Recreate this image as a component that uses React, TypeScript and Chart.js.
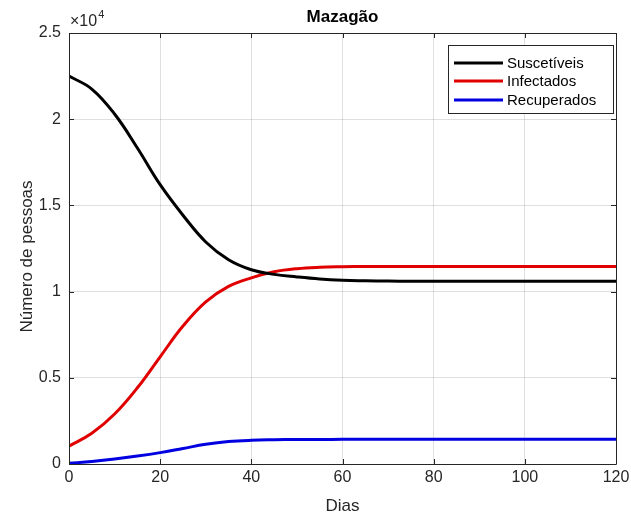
import React, { useEffect, useRef } from "react";
import { Chart, registerables } from "chart.js";

Chart.register(...registerables);

const days = [0, 5, 10, 15, 20, 25, 30, 35, 40, 45, 50, 55, 60, 65, 70, 75, 80, 85, 90, 95, 100, 105, 110, 115, 120];
const suscetiveis = [22500, 21750, 20300, 18330, 16200, 14430, 12880, 11850, 11270, 11000, 10850, 10730, 10660, 10630, 10610, 10600, 10600, 10600, 10600, 10600, 10600, 10600, 10600, 10600, 10600];
const infectados = [1040, 1780, 2900, 4420, 6220, 8000, 9400, 10300, 10800, 11150, 11330, 11410, 11440, 11455, 11460, 11460, 11460, 11460, 11460, 11460, 11460, 11460, 11460, 11460, 11460];
const recuperados = [40, 150, 290, 460, 660, 900, 1140, 1300, 1375, 1405, 1420, 1425, 1430, 1430, 1430, 1430, 1430, 1430, 1430, 1430, 1430, 1430, 1430, 1430, 1430];

const seriesNames = ["Suscetíveis", "Infectados", "Recuperados"];
const seriesColors = ["#000000", "#e00000", "#0000e0"];
const xTicks = [0, 20, 40, 60, 80, 100, 120];
const yTicks = [0, 5000, 10000, 15000, 20000, 25000];
const titleText = "Mazagão";
const xTitle = "Dias";
const yTitle = "Número de pessoas";

const AXIS = "#262626";
const FONT = "'Liberation Sans', Arial, sans-serif";

const decorPlugin = {
  id: "decor",
  afterDatasetsDraw(chart: any) {
    const { ctx, chartArea } = chart;
    const { left, right, top, bottom } = chartArea;
    const xs = chart.scales.x;
    const ys = chart.scales.y;
    ctx.save();
    ctx.strokeStyle = AXIS;
    ctx.lineWidth = 1;
    ctx.beginPath();
    ctx.rect(Math.round(left) + 0.5, Math.round(top) + 0.5, Math.round(right - left), Math.round(bottom - top));
    ctx.stroke();
    ctx.beginPath();
    xTicks.forEach((t) => {
      const px = Math.round(xs.getPixelForValue(t)) + 0.5;
      ctx.moveTo(px, bottom);
      ctx.lineTo(px, bottom - 5);
      ctx.moveTo(px, top);
      ctx.lineTo(px, top + 5);
    });
    yTicks.forEach((t) => {
      const py = Math.round(ys.getPixelForValue(t)) + 0.5;
      ctx.moveTo(left, py);
      ctx.lineTo(left + 5, py);
      ctx.moveTo(right, py);
      ctx.lineTo(right - 5, py);
    });
    ctx.stroke();
    const cx = (left + right) / 2;
    ctx.fillStyle = "#000";
    ctx.font = `bold 17px ${FONT}`;
    ctx.textAlign = "center";
    ctx.textBaseline = "middle";
    ctx.fillText(titleText, cx, 17);
    ctx.fillStyle = AXIS;
    ctx.textAlign = "left";
    ctx.font = `16px ${FONT}`;
    ctx.fillText("×10", left + 1, 22);
    const w = ctx.measureText("×10").width;
    ctx.font = `11px ${FONT}`;
    ctx.fillText("4", left + 2 + w, 15);
    ctx.font = `17px ${FONT}`;
    ctx.textAlign = "center";
    ctx.fillText(xTitle, cx, 506);
    ctx.save();
    ctx.translate(27, (top + bottom) / 2 + 8);
    ctx.rotate(-Math.PI / 2);
    ctx.fillText(yTitle, 0, 0);
    ctx.restore();
    const lx = 448, ly = 45, lw = 165, lh = 68;
    ctx.fillStyle = "#fff";
    ctx.fillRect(lx, ly, lw, lh);
    ctx.strokeStyle = AXIS;
    ctx.lineWidth = 1;
    ctx.strokeRect(lx + 0.5, ly + 0.5, lw, lh);
    const rows = [63, 81, 100];
    ctx.font = `15px ${FONT}`;
    ctx.textAlign = "left";
    ctx.textBaseline = "middle";
    seriesNames.forEach((name, i) => {
      ctx.strokeStyle = seriesColors[i];
      ctx.lineWidth = 3;
      ctx.beginPath();
      ctx.moveTo(454, rows[i]);
      ctx.lineTo(503, rows[i]);
      ctx.stroke();
      ctx.fillStyle = "#000";
      ctx.fillText(name, 507, rows[i] + 1);
    });
    ctx.restore();
  },
};

export default function App() {
  const ref = useRef<HTMLCanvasElement>(null);
  useEffect(() => {
    if (!ref.current) return;
    const mk = (vals: number[]) => days.map((d, i) => ({ x: d, y: vals[i] }));
    const seriesData = [suscetiveis, infectados, recuperados];
    const chart = new Chart(ref.current, {
      type: "line",
      data: {
        datasets: seriesNames.map((name, i) => ({
          label: name,
          data: mk(seriesData[i]),
          borderColor: seriesColors[i],
          backgroundColor: seriesColors[i],
          borderWidth: 3,
          pointRadius: 0,
          tension: 0.4,
          fill: false,
        })),
      },
      options: {
        responsive: false,
        animation: false,
        layout: { padding: { left: 0, right: 15, top: 33, bottom: 0 } },
        plugins: { legend: { display: false }, title: { display: false }, tooltip: { enabled: false } },
        scales: {
          x: {
            type: "linear",
            min: 0,
            max: 120,
            afterBuildTicks: (s: any) => { s.ticks = xTicks.map((v) => ({ value: v })); },
            afterFit: (s: any) => { s.height = 55; s.paddingRight = 0; s.paddingLeft = 0; },
            grid: { color: "rgba(38,38,38,0.15)", drawTicks: false },
            border: { display: false },
            ticks: { color: AXIS, font: { family: FONT, size: 16 }, padding: 4, maxRotation: 0 },
          },
          y: {
            type: "linear",
            min: 0,
            max: 25000,
            afterBuildTicks: (s: any) => { s.ticks = yTicks.map((v) => ({ value: v })); },
            afterFit: (s: any) => { s.width = 69; s.paddingTop = 0; s.paddingBottom = 0; },
            grid: { color: "rgba(38,38,38,0.15)", drawTicks: false },
            border: { display: false },
            ticks: {
              color: AXIS,
              font: { family: FONT, size: 16 },
              padding: 8,
              callback: (v: any) => String(Number(v) / 10000),
            },
          },
        },
      },
      plugins: [decorPlugin],
    });
    return () => chart.destroy();
  }, []);
  return (
    <div style={{ position: "fixed", left: 0, top: 0, width: 631, height: 519, background: "#fff" }}>
      <canvas ref={ref} width={631} height={519} style={{ width: 631, height: 519 }} />
    </div>
  );
}
